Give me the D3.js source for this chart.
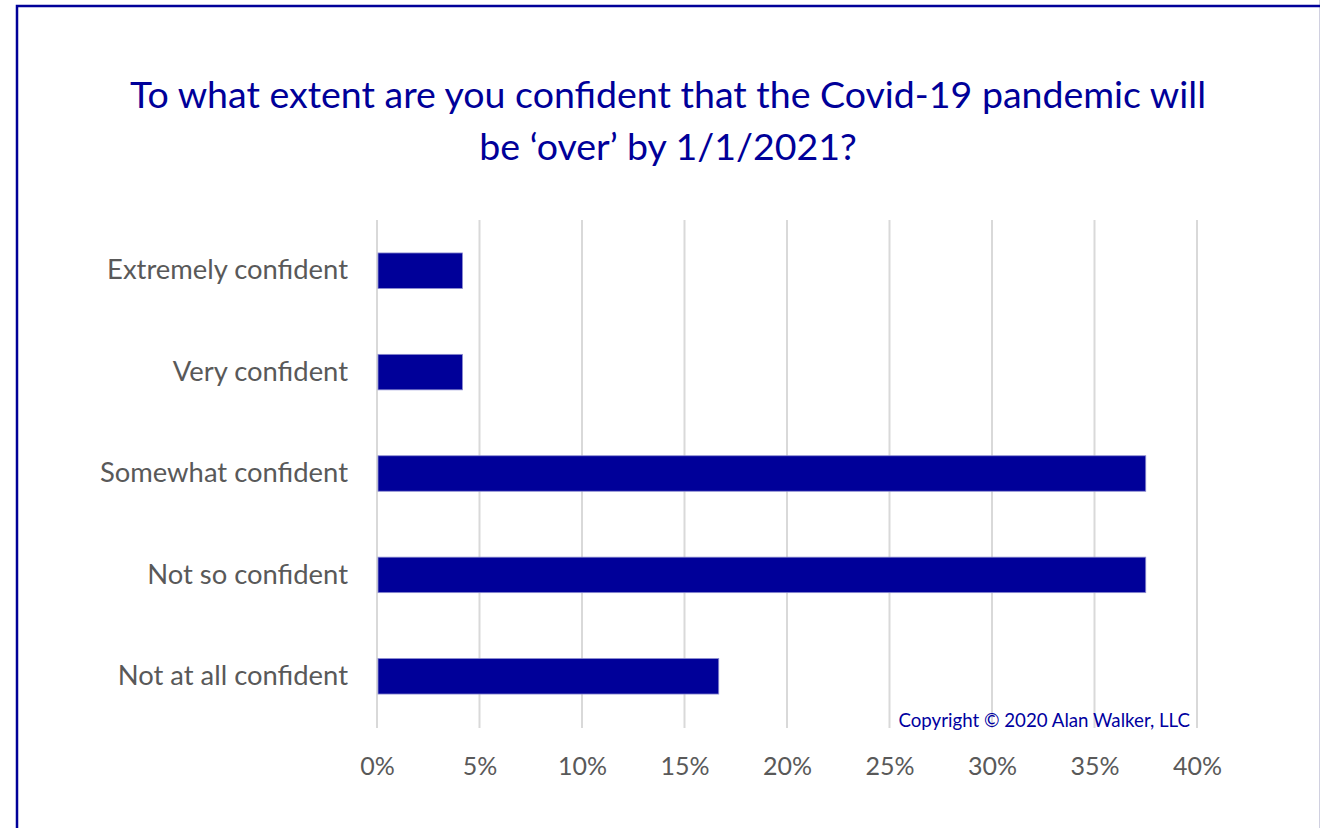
<!DOCTYPE html>
<html>
<head>
<meta charset="utf-8">
<script src="https://cdn.jsdelivr.net/npm/d3@7"></script>
<style>
  body { margin: 0; background: #fff; }
  svg { display: block; }
</style>
</head>
<body>
<div id="chart"></div>
<script>
// Data
const categories = ["Extremely confident", "Very confident", "Somewhat confident", "Not so confident", "Not at all confident"];
const shares = [0.0417, 0.0417, 0.375, 0.375, 0.1667];
const tickValues = [0, 0.05, 0.10, 0.15, 0.20, 0.25, 0.30, 0.35, 0.40];
const titleLines = ["To what extent are you confident that the Covid-19 pandemic will", "be \u2018over\u2019 by 1/1/2021?"];

const width = 1320, height = 828;
const navy = "#000099";
const fontFam = "Lato, 'Open Sans', sans-serif";

const svg = d3.select("#chart").append("svg")
    .attr("width", width)
    .attr("height", height);

svg.append("rect").attr("width", width).attr("height", height).attr("fill", "#fff");

// faint right edge
svg.append("line")
    .attr("x1", 1319.5).attr("x2", 1319.5)
    .attr("y1", 0).attr("y2", height)
    .attr("stroke", "#d0d0e0")
    .attr("stroke-width", 1);

// frame around the chart
svg.append("rect")
    .attr("x", 17).attr("y", 6)
    .attr("width", 1320).attr("height", 900)
    .attr("fill", "none")
    .attr("stroke", navy)
    .attr("stroke-width", 2.5);

// Title
svg.append("g").selectAll("text")
    .data(titleLines)
    .enter().append("text")
    .attr("x", 668)
    .attr("y", (d, i) => 108 + i * 52)
    .attr("text-anchor", "middle")
    .style("font-family", fontFam)
    .style("font-size", "37.5px")
    .attr("fill", navy)
    .text(d => d);

// Scales
const x = d3.scaleLinear().domain([0, 0.40]).range([377, 1197]);
const y = d3.scaleBand().domain(categories).range([220, 727]).paddingInner(0.65).paddingOuter(0.325);

// Gridlines
svg.append("g").selectAll("line")
    .data(tickValues)
    .enter().append("line")
    .attr("x1", d => x(d)).attr("x2", d => x(d))
    .attr("y1", 220).attr("y2", 728)
    .attr("stroke", "#d9d9d9")
    .attr("stroke-width", 2);

// Bars
svg.append("g").selectAll("rect")
    .data(categories)
    .enter().append("rect")
    .attr("x", x(0) + 1)
    .attr("y", d => y(d))
    .attr("width", (d, i) => x(shares[i]) - x(0) - 1)
    .attr("height", y.bandwidth())
    .attr("fill", navy)
    .attr("stroke", "#8c8cd0")
    .attr("stroke-width", 0.8);

// Category labels
const yAxis = svg.append("g")
    .attr("transform", "translate(358,0)")
    .call(d3.axisLeft(y).tickSize(0).tickPadding(10));
yAxis.select(".domain").remove();
yAxis.selectAll("text")
    .style("font-family", fontFam)
    .style("font-size", "27.4px")
    .attr("fill", "#595959");

// Percent labels
const xAxis = svg.append("g")
    .attr("transform", "translate(0,756)")
    .call(d3.axisBottom(x).tickValues(tickValues).tickFormat(d3.format(".0%")).tickSize(0).tickPadding(0));
xAxis.select(".domain").remove();
xAxis.selectAll("text")
    .attr("dy", "0.75em")
    .style("font-family", fontFam)
    .style("font-size", "25px")
    .attr("fill", "#595959");

// Copyright note
svg.append("text")
    .attr("x", 1190).attr("y", 727)
    .attr("text-anchor", "end")
    .style("font-family", fontFam)
    .style("font-size", "18.7px")
    .attr("fill", "#0000a0")
    .text("Copyright \u00a9 2020 Alan Walker, LLC");
</script>
</body>
</html>
